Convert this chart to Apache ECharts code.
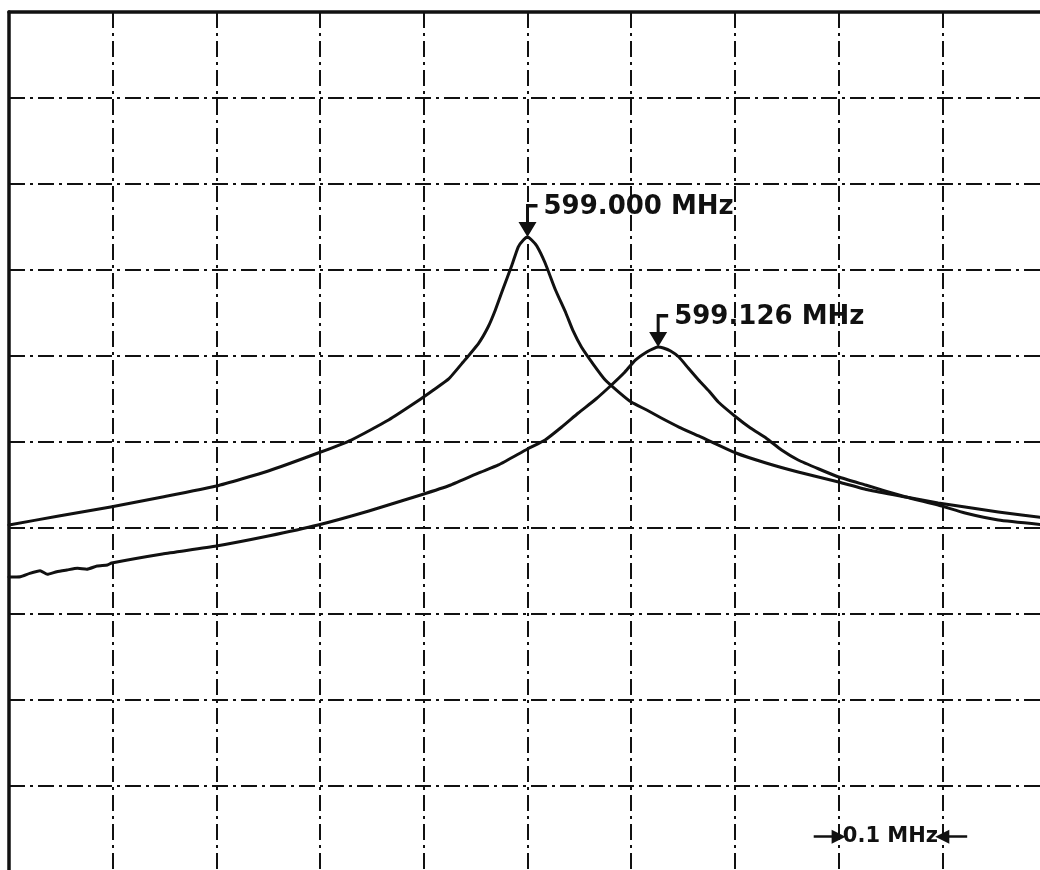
<!DOCTYPE html>
<html>
<head>
<meta charset="utf-8">
<title>Resonance sweep</title>
<script src="https://cdn.jsdelivr.net/npm/echarts@6/dist/echarts.min.js"></script>
<style>
  html, body { margin: 0; padding: 0; background: #ffffff; }
  #chart { width: 1040px; height: 870px; }
</style>
</head>
<body>
<div id="chart"></div>
<script>
// Frequency axis: 598.5 .. 599.5 MHz, 0.1 MHz per division
const freqMin = 598.5;
const freqMax = 599.5;
const freqStep = 0.1;
// Level axis: 10 dB per division
const levelMin = -100;
const levelMax = 0;
const levelStep = 10;

// Trace A, resonance at 599.000 MHz
const freqA = [598.500, 598.548, 598.598, 598.648, 598.700, 598.750, 598.798, 598.830,
  598.866, 598.897, 598.910, 598.924, 598.938, 598.953, 598.962, 598.969, 598.976,
  598.985, 598.991, 598.996, 599.000, 599.004, 599.009, 599.017, 599.027, 599.037,
  599.044, 599.052, 599.064, 599.075, 599.088, 599.100, 599.115, 599.129, 599.146,
  599.165, 599.201, 599.230, 599.261, 599.300, 599.329, 599.365, 599.396, 599.422,
  599.454, 599.500];
const levelA = [-59.65, -58.60, -57.56, -56.40, -55.12, -53.37, -51.28, -49.77,
  -47.44, -45.00, -43.90, -42.67, -40.70, -38.49, -36.63, -34.65, -32.33,
  -29.42, -27.33, -26.51, -26.16, -26.51, -27.21, -29.19, -32.33, -35.00,
  -37.09, -38.95, -41.05, -42.79, -44.19, -45.35, -46.28, -47.21, -48.26,
  -49.30, -51.28, -52.44, -53.49, -54.65, -55.58, -56.40, -57.09, -57.56,
  -58.14, -58.84];

// Trace B, resonance at 599.126 MHz
const freqB = [598.500, 598.511, 598.520, 598.530, 598.537, 598.546, 598.556, 598.566,
  598.575, 598.585, 598.595, 598.599, 598.648, 598.700, 598.750, 598.798, 598.847,
  598.897, 598.926, 598.953, 598.972, 599.000, 599.017, 599.033, 599.049, 599.066,
  599.081, 599.093, 599.104, 599.115, 599.122, 599.126, 599.131, 599.138, 599.146,
  599.155, 599.165, 599.175, 599.184, 599.201, 599.215, 599.230, 599.245, 599.261,
  599.281, 599.300, 599.326, 599.365, 599.396, 599.422, 599.454, 599.500];
const levelB = [-65.70, -65.66, -65.27, -64.97, -65.38, -65.08, -64.88, -64.69,
  -64.80, -64.42, -64.30, -64.07, -63.02, -62.09, -60.93, -59.65, -58.02,
  -56.16, -55.00, -53.60, -52.67, -50.81, -49.77, -48.26, -46.63, -45.00,
  -43.37, -41.98, -40.47, -39.53, -39.10, -38.95, -39.07, -39.42, -40.12,
  -41.40, -42.79, -44.07, -45.35, -47.09, -48.37, -49.53, -50.93, -52.09,
  -53.14, -54.07, -55.00, -56.40, -57.33, -58.26, -59.07, -59.65];

// Marker readouts
const markerFreq = [599.000, 599.126];
const markerLevel = [-26.16, -38.95];

// Span annotation: one division
const spanText = '0.1 MHz';
const spanFrom = 599.3;
const spanTo = 599.4;
const spanLevel = -95.9;

const ink = '#111111';
const fontFamily = '"DejaVu Sans", Arial, sans-serif';

function pairs(xs, ys) {
  return xs.map((x, i) => [x, ys[i]]);
}

// marker glyph: hook at top, stem, filled arrowhead pointing down at the peak
const markerPath = 'path://M7.5,0 H19 V3.5 H10.5 V18 H18 L9,33 L0,18 H7.5 Z';

function peakMarker(idx) {
  return {
    silent: true,
    animation: false,
    symbol: markerPath,
    symbolSize: [19, 33],
    symbolKeepAspect: false,
    symbolOffset: [0.5, -16.5],
    itemStyle: { color: ink },
    label: {
      show: true,
      position: [25, 3],
      align: 'left',
      verticalAlign: 'middle',
      color: ink,
      fontFamily: fontFamily,
      fontWeight: 'bold',
      fontSize: 26,
      formatter: markerFreq[idx].toFixed(3) + ' MHz'
    },
    data: [{ coord: [markerFreq[idx], markerLevel[idx]] }]
  };
}

const gridLine = {
  show: true,
  lineStyle: { color: ink, width: 2, type: [16, 5, 3, 5] }
};

const traceStyle = {
  type: 'line',
  showSymbol: false,
  smooth: 0.15,
  lineStyle: { color: ink, width: 3, join: 'round', cap: 'round' },
  silent: true
};

const chart = echarts.init(document.getElementById('chart'), null, { renderer: 'canvas' });

chart.setOption({
  animation: false,
  backgroundColor: '#ffffff',
  grid: {
    left: 9, top: 12, width: 1037, height: 860,
    containLabel: false,
    outerBoundsMode: 'none'
  },
  xAxis: {
    type: 'value',
    position: 'top',
    min: freqMin,
    max: freqMax,
    interval: freqStep,
    axisLine: { show: true, onZero: false, lineStyle: { color: ink, width: 3.5 } },
    axisTick: { show: false },
    axisLabel: { show: false },
    splitLine: gridLine
  },
  yAxis: {
    type: 'value',
    min: levelMin,
    max: levelMax,
    interval: levelStep,
    axisLine: { show: true, onZero: false, lineStyle: { color: ink, width: 3.5 } },
    axisTick: { show: false },
    axisLabel: { show: false },
    splitLine: gridLine
  },
  series: [
    Object.assign({}, traceStyle, {
      name: 'A',
      data: pairs(freqA, levelA),
      markPoint: peakMarker(0),
      markLine: {
        silent: true,
        animation: false,
        symbol: ['none', 'triangle'],
        symbolSize: 14,
        label: { show: false },
        lineStyle: { color: ink, width: 2.5, type: 'solid' },
        data: [
          [{ coord: [spanFrom - 0.024, spanLevel] }, { coord: [spanFrom, spanLevel] }],
          [{ coord: [spanTo + 0.024, spanLevel] }, { coord: [spanTo, spanLevel] }]
        ]
      }
    }),
    Object.assign({}, traceStyle, {
      name: 'B',
      data: pairs(freqB, levelB),
      markPoint: peakMarker(1)
    }),
    {
      name: 'span',
      type: 'scatter',
      silent: true,
      data: [],
      markPoint: {
        silent: true,
        animation: false,
        symbol: 'circle',
        symbolSize: 1,
        itemStyle: { color: 'rgba(0,0,0,0)' },
        label: {
          show: true,
          position: 'inside',
          color: ink,
          fontFamily: fontFamily,
          fontWeight: 'bold',
          fontSize: 21,
          formatter: spanText
        },
        data: [{ coord: [(spanFrom + spanTo) / 2, spanLevel] }]
      }
    }
  ]
});
</script>
</body>
</html>
